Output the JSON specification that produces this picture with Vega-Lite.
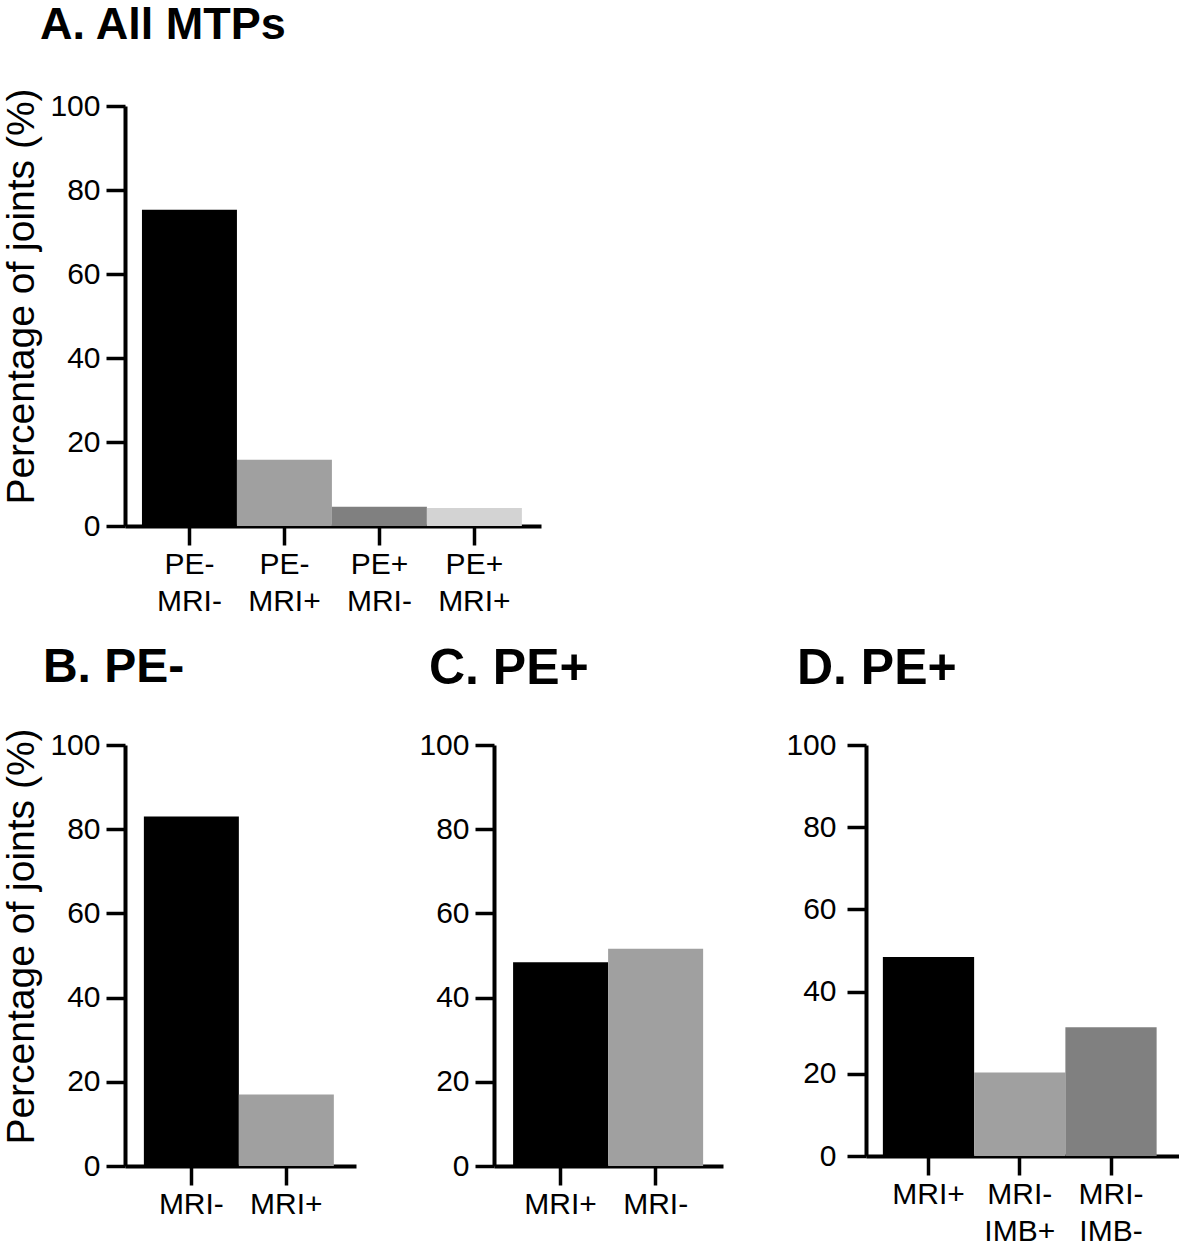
{
  "$schema": "https://vega.github.io/schema/vega-lite/v6.json",
  "background": "white",
  "padding": {"left": 2, "top": 2, "right": 0, "bottom": 0},
  "config": {
    "font": "Liberation Sans",
    "view": {"stroke": null},
    "axis": {
      "domainColor": "black", "domainWidth": 4,
      "tickColor": "black", "tickWidth": 3.5, "tickSize": 19,
      "labelFont": "Liberation Sans", "labelFontSize": 30, "labelColor": "black",
      "grid": false,
      "titleFont": "Liberation Sans", "titleFontWeight": "normal", "titleFontSize": 39, "titleColor": "black"
    },
    "axisX": {"labelAngle": 0, "labelPadding": 4, "labelLineHeight": 37, "labelExpr": "split(datum.label, ' ')"},
    "axisY": {"labelPadding": 6},
    "title": {"fontSize": 48, "fontWeight": "bold", "anchor": "start", "frame": "bounds", "color": "black", "font": "Liberation Sans", "offset": 36}
  },
  "datasets": {
    "a": [
      {"group": "PE- MRI-", "pct": 75.3},
      {"group": "PE- MRI+", "pct": 15.8},
      {"group": "PE+ MRI-", "pct": 4.6},
      {"group": "PE+ MRI+", "pct": 4.3}
    ],
    "b": [
      {"group": "MRI-", "pct": 83.0},
      {"group": "MRI+", "pct": 17.0}
    ],
    "c": [
      {"group": "MRI+", "pct": 48.4},
      {"group": "MRI-", "pct": 51.6}
    ],
    "d": [
      {"group": "MRI+", "pct": 48.4},
      {"group": "MRI- IMB+", "pct": 20.3},
      {"group": "MRI- IMB-", "pct": 31.3}
    ]
  },
  "resolve": {"scale": {"color": "independent", "x": "independent", "y": "independent"}},
  "spacing": 27,
  "vconcat": [
    {
      "title": {"text": "A. All MTPs", "dx": 37, "offset": 40, "fontSize": 45},
      "data": {"name": "a"},
      "width": 416, "height": 420,
      "mark": {"type": "bar"},
      "encoding": {
        "x": {"field": "group", "type": "nominal", "title": null,
              "scale": {"domain": ["PE- MRI-", "PE- MRI+", "PE+ MRI-", "PE+ MRI+"], "paddingInner": 0, "paddingOuter": 0.19, "align": 0.47}},
        "y": {"field": "pct", "type": "quantitative", "title": "Percentage of joints (%)",
              "scale": {"domain": [0, 100], "nice": false}, "axis": {"titlePadding": 8, "titleY": 190, "values": [0, 20, 40, 60, 80, 100]}},
        "color": {"field": "group", "type": "nominal", "legend": null,
                  "scale": {"domain": ["PE- MRI-", "PE- MRI+", "PE+ MRI-", "PE+ MRI+"], "range": ["#000000", "#a0a0a0", "#808080", "#d3d3d3"]}}
      }
    },
    {
      "hconcat": [
        {
          "title": {"text": "B. PE-", "dx": 40},
          "data": {"name": "b"},
          "width": 231, "height": 421,
          "mark": {"type": "bar"},
          "encoding": {
            "x": {"field": "group", "type": "nominal", "title": null,
                  "scale": {"domain": ["MRI-", "MRI+"], "paddingInner": 0, "paddingOuter": 0.216, "align": 0.46}},
            "y": {"field": "pct", "type": "quantitative", "title": "Percentage of joints (%)",
                  "scale": {"domain": [0, 100], "nice": false}, "axis": {"titlePadding": 8, "titleY": 191, "values": [0, 20, 40, 60, 80, 100]}},
            "color": {"field": "group", "type": "nominal", "legend": null,
                      "scale": {"domain": ["MRI-", "MRI+"], "range": ["#000000", "#a0a0a0"]}}
          }
        },
        {
          "title": {"text": "C. PE+", "dx": 10, "fontSize": 50},
          "data": {"name": "c"},
          "width": 229, "height": 421,
          "mark": {"type": "bar"},
          "encoding": {
            "x": {"field": "group", "type": "nominal", "title": null,
                  "scale": {"domain": ["MRI+", "MRI-"], "paddingInner": 0, "paddingOuter": 0.205, "align": 0.49}},
            "y": {"field": "pct", "type": "quantitative", "title": null,
                  "scale": {"domain": [0, 100], "nice": false}, "axis": {"values": [0, 20, 40, 60, 80, 100]}},
            "color": {"field": "group", "type": "nominal", "legend": null,
                      "scale": {"domain": ["MRI+", "MRI-"], "range": ["#000000", "#a0a0a0"]}}
          }
        },
        {
          "title": {"text": "D. PE+", "dx": 11, "fontSize": 50},
          "data": {"name": "d"},
          "width": 313, "height": 411,
          "mark": {"type": "bar"},
          "encoding": {
            "x": {"field": "group", "type": "nominal", "title": null,
                  "scale": {"domain": ["MRI+", "MRI- IMB+", "MRI- IMB-"], "paddingInner": 0, "paddingOuter": 0.215, "align": 0.43}},
            "y": {"field": "pct", "type": "quantitative", "title": null,
                  "scale": {"domain": [0, 100], "nice": false}, "axis": {"labelPadding": 11, "values": [0, 20, 40, 60, 80, 100]}},
            "color": {"field": "group", "type": "nominal", "legend": null,
                      "scale": {"domain": ["MRI+", "MRI- IMB+", "MRI- IMB-"], "range": ["#000000", "#a0a0a0", "#808080"]}}
          }
        }
      ],
      "spacing": 62,
      "align": "none",
      "resolve": {"scale": {"color": "independent", "x": "independent", "y": "independent"}}
    }
  ],
  "align": "none"
}
